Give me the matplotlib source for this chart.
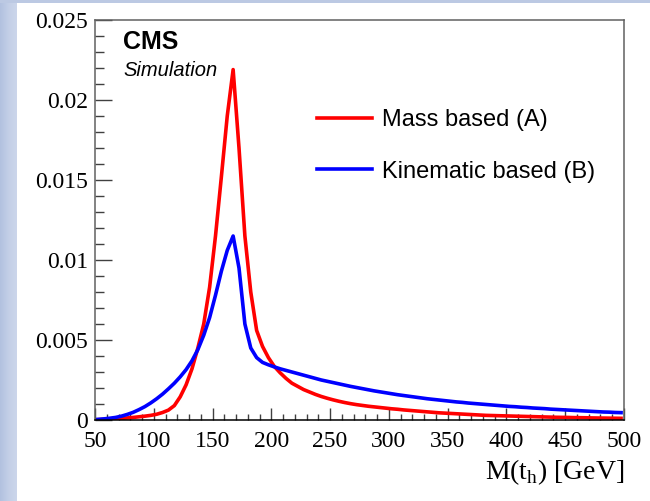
import numpy as np
import matplotlib.pyplot as plt
from matplotlib.ticker import MultipleLocator

# bin centres (GeV) and normalised yields (units of 1e-3)
mass = np.arange(52.5, 500, 5)

mass_based = [
    0.02, 0.04, 0.06, 0.08, 0.10, 0.13, 0.16, 0.20, 0.24, 0.29,
    0.36, 0.47, 0.62, 0.90, 1.45, 2.2, 3.2, 4.5, 6.0, 8.3,
    11.5, 15.2, 19.0, 21.9, 17.0, 11.5, 8.0, 5.6, 4.6, 3.9,
    3.35, 2.95, 2.6, 2.3, 2.1, 1.9, 1.75, 1.6, 1.47, 1.36,
    1.26, 1.17, 1.09, 1.02, 0.96, 0.91, 0.86, 0.82, 0.78, 0.74,
    0.70, 0.67, 0.63, 0.60, 0.57, 0.54, 0.51, 0.48, 0.45, 0.43,
    0.41, 0.39, 0.37, 0.35, 0.33, 0.31, 0.29, 0.28, 0.27, 0.26,
    0.25, 0.24, 0.23, 0.22, 0.21, 0.20, 0.19, 0.18, 0.17, 0.165,
    0.16, 0.15, 0.145, 0.14, 0.13, 0.125, 0.12, 0.115, 0.11, 0.105,
]

kinematic_based = [
    0.04, 0.07, 0.11, 0.16, 0.24, 0.35, 0.48, 0.65, 0.84, 1.07,
    1.33, 1.62, 1.95, 2.3, 2.7, 3.15, 3.7, 4.4, 5.3, 6.4,
    7.8, 9.3, 10.6, 11.5, 9.5, 6.0, 4.5, 3.9, 3.6, 3.45,
    3.32, 3.2, 3.1, 3.0, 2.9, 2.8, 2.7, 2.6, 2.5, 2.42,
    2.34, 2.26, 2.18, 2.1, 2.03, 1.96, 1.89, 1.82, 1.76, 1.70,
    1.64, 1.58, 1.53, 1.48, 1.43, 1.38, 1.33, 1.29, 1.25, 1.21,
    1.17, 1.13, 1.10, 1.06, 1.03, 1.00, 0.97, 0.94, 0.91, 0.88,
    0.85, 0.83, 0.80, 0.78, 0.75, 0.73, 0.71, 0.68, 0.66, 0.64,
    0.62, 0.60, 0.58, 0.56, 0.54, 0.52, 0.50, 0.49, 0.47, 0.46,
]

labels = ['Mass based (A)', 'Kinematic based (B)']
colors = ['#ff0000', '#0000ff']

serif = ['Liberation Serif', 'DejaVu Serif']
sans = ['Liberation Sans', 'DejaVu Sans']

fig = plt.figure(figsize=(6.5, 5.01), dpi=100)

# slide background strips at the left and top
bg = fig.add_axes([0, 0, 17 / 650, 1])
grad = np.linspace(0, 1, 50).reshape(1, -1)
bg.imshow(grad, aspect='auto', cmap=plt.matplotlib.colors.LinearSegmentedColormap.from_list(
    'slide', ['#b2c1df', '#c3cfe7', '#ccd6eb']))
bg.axis('off')
top = fig.add_axes([0, 1 - 3 / 501, 1, 3 / 501])
top.set_facecolor('#bcc9e3')
top.set_xticks([])
top.set_yticks([])
for s in top.spines.values():
    s.set_visible(False)

ax = fig.add_axes([95 / 650, 1 - 420 / 501, 529 / 650, 400 / 501])

for vals, lab, col in zip([mass_based, kinematic_based], labels, colors):
    ax.plot(mass, np.array(vals) * 1e-3, color=col, lw=2.6, label=lab)

ax.set_xlim(50, 500)
ax.set_ylim(0, 0.025)
ax.xaxis.set_major_locator(MultipleLocator(50))
ax.xaxis.set_minor_locator(MultipleLocator(10))
ax.yaxis.set_major_locator(MultipleLocator(0.005))
ax.yaxis.set_minor_locator(MultipleLocator(0.001))
ax.set_yticks([0, 0.005, 0.01, 0.015, 0.02, 0.025])
ax.set_yticklabels(['0', '0.005', '0.01', '0.015', '0.02', '0.025'])

ax.tick_params(which='both', direction='in', top=False, right=False,
               color='#404040', width=1.0)
ax.tick_params(axis='x', which='major', length=9, pad=8)
ax.tick_params(axis='x', which='minor', length=4.5)
ax.tick_params(axis='y', which='major', length=12, pad=5)
ax.tick_params(axis='y', which='minor', length=6.5)
for lab in ax.get_xticklabels() + ax.get_yticklabels():
    lab.set_family(serif)
    lab.set_fontsize(17)

for side, s in ax.spines.items():
    s.set_linewidth(1.1)
    s.set_color('#606060')
ax.spines['bottom'].set_color('black')

ax.set_xlabel(r'M(t$_\mathregular{h}$) [GeV]', family=serif, fontsize=20,
              loc='right', labelpad=4)

ax.text(123 / 650, 1 - 42 / 501, 'CMS', transform=fig.transFigure,
        family=sans, fontsize=18, fontweight='bold', va='center', ha='left')
ax.text(123 / 650, 1 - 70 / 501, 'Simulation', transform=fig.transFigure,
        family=sans, fontsize=14.5, style='italic', va='center', ha='left')

ax.legend(loc='upper left', bbox_to_anchor=(317 / 650, 1 - 109 / 501),
          bbox_transform=fig.transFigure, frameon=False, borderpad=0,
          borderaxespad=0, handlelength=2.33, handletextpad=0.42,
          labelspacing=1.25, prop={'family': sans, 'size': 17})

fig.savefig('out.png', dpi=100)
